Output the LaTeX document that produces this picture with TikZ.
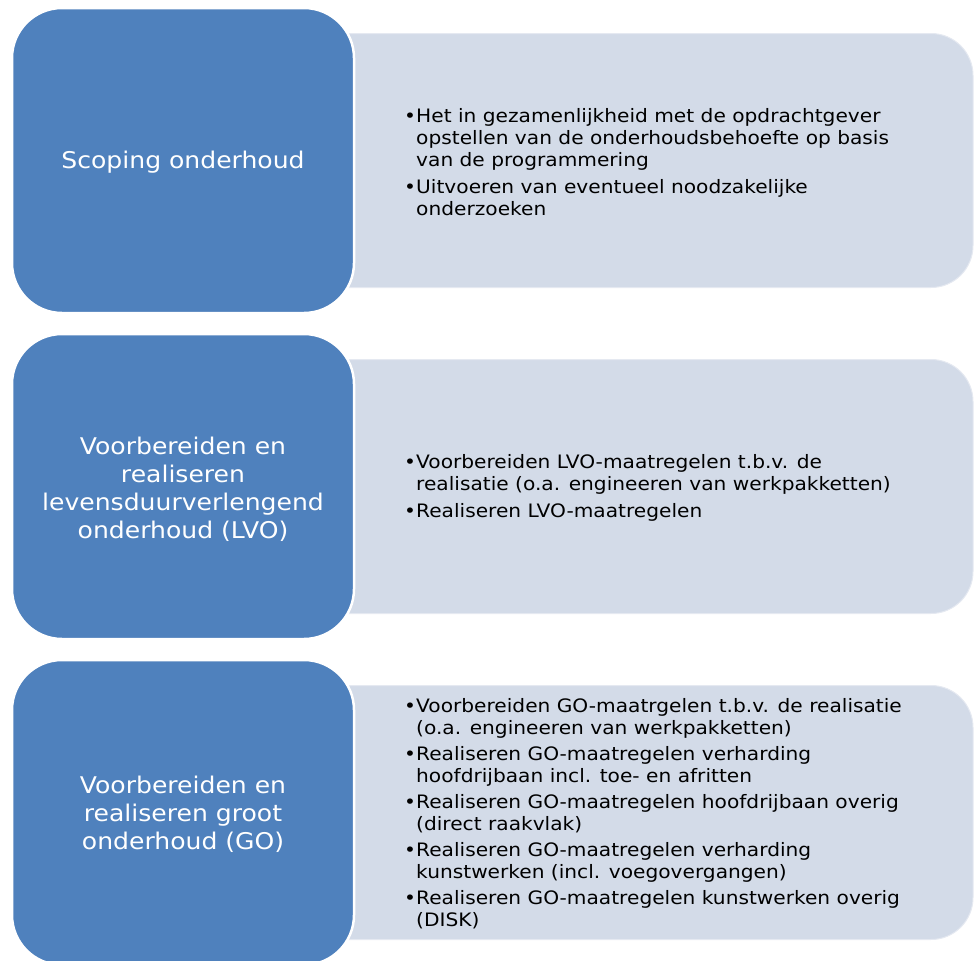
\documentclass[tikz,border=0pt]{standalone}
\usepackage{fontspec}
\setmainfont[FakeStretch=1.09]{DejaVu Sans}
\definecolor{bluefill}{HTML}{4F81BD}
\definecolor{lightfill}{HTML}{D3DBE8}
\newcommand\bitem[1]{\makebox[12pt][l]{•}#1}
\newcommand\bcont[1]{\hspace*{12pt}#1}
\begin{document}
\begin{tikzpicture}[x=1pt,y=-1pt,
  stage/.style={draw=white, line width=2.5pt, fill=bluefill, rounded corners=50pt,
    minimum width=342pt, minimum height=305pt, inner sep=0pt},
  stagetext/.style={text=white, font=\fontsize{23}{28}\selectfont, align=center, inner sep=0pt},
  detail/.style={draw=white!40!lightfill, line width=1pt, fill=lightfill, rounded corners=42pt,
    minimum width=673pt, minimum height=254pt, inner sep=0pt},
  items/.style={anchor=west, align=left, font=\fontsize{18.5}{22}\selectfont,
    text=black, inner sep=0pt}
]
\useasboundingbox (0,0) rectangle (975,961);
\clip (0,0) rectangle (975,961);

% light detail boxes
\node[detail] (d1) at (636.5,160.5) {};
\node[detail] (d2) at (636.5,486.5) {};
\node[detail] (d3) at (636.5,812.5) {};

% blue stage boxes
\node[stage] (s1) at (183,160.5) {};
\node[stage] (s2) at (183,486.5) {};
\node[stage] (s3) at (183,812.5) {};
\node[stagetext] (l1) at ([yshift=-2pt]s1.center) {Scoping onderhoud};
\node[stagetext] (l2) at ([yshift=-3pt]s2.center) {Voorbereiden en\\realiseren\\levensduurverlengend\\onderhoud (LVO)};
\node[stagetext] (l3) at ([yshift=-2pt]s3.center) {Voorbereiden en\\realiseren groot\\onderhoud (GO)};

% texts
\node[items] (t1) at (404,162) {\bitem{Het in gezamenlijkheid met de opdrachtgever}\\
\bcont{opstellen van de onderhoudsbehoefte op basis}\\
\bcont{van de programmering}\\[5pt]
\bitem{Uitvoeren van eventueel noodzakelijke}\\
\bcont{onderzoeken}};

\node[items] (t2) at (404,488) {\bitem{Voorbereiden LVO-maatregelen t.b.v. de}\\
\bcont{realisatie (o.a. engineeren van werkpakketten)}\\[5pt]
\bitem{Realiseren LVO-maatregelen}};

\node[items] (t3) at (404,814) {\bitem{Voorbereiden GO-maatrgelen t.b.v. de realisatie}\\
\bcont{(o.a. engineeren van werkpakketten)}\\[4pt]
\bitem{Realiseren GO-maatregelen verharding}\\
\bcont{hoofdrijbaan incl. toe- en afritten}\\[4pt]
\bitem{Realiseren GO-maatregelen hoofdrijbaan overig}\\
\bcont{(direct raakvlak)}\\[4pt]
\bitem{Realiseren GO-maatregelen verharding}\\
\bcont{kunstwerken (incl. voegovergangen)}\\[4pt]
\bitem{Realiseren GO-maatregelen kunstwerken overig}\\
\bcont{(DISK)}};
\end{tikzpicture}
\end{document}
